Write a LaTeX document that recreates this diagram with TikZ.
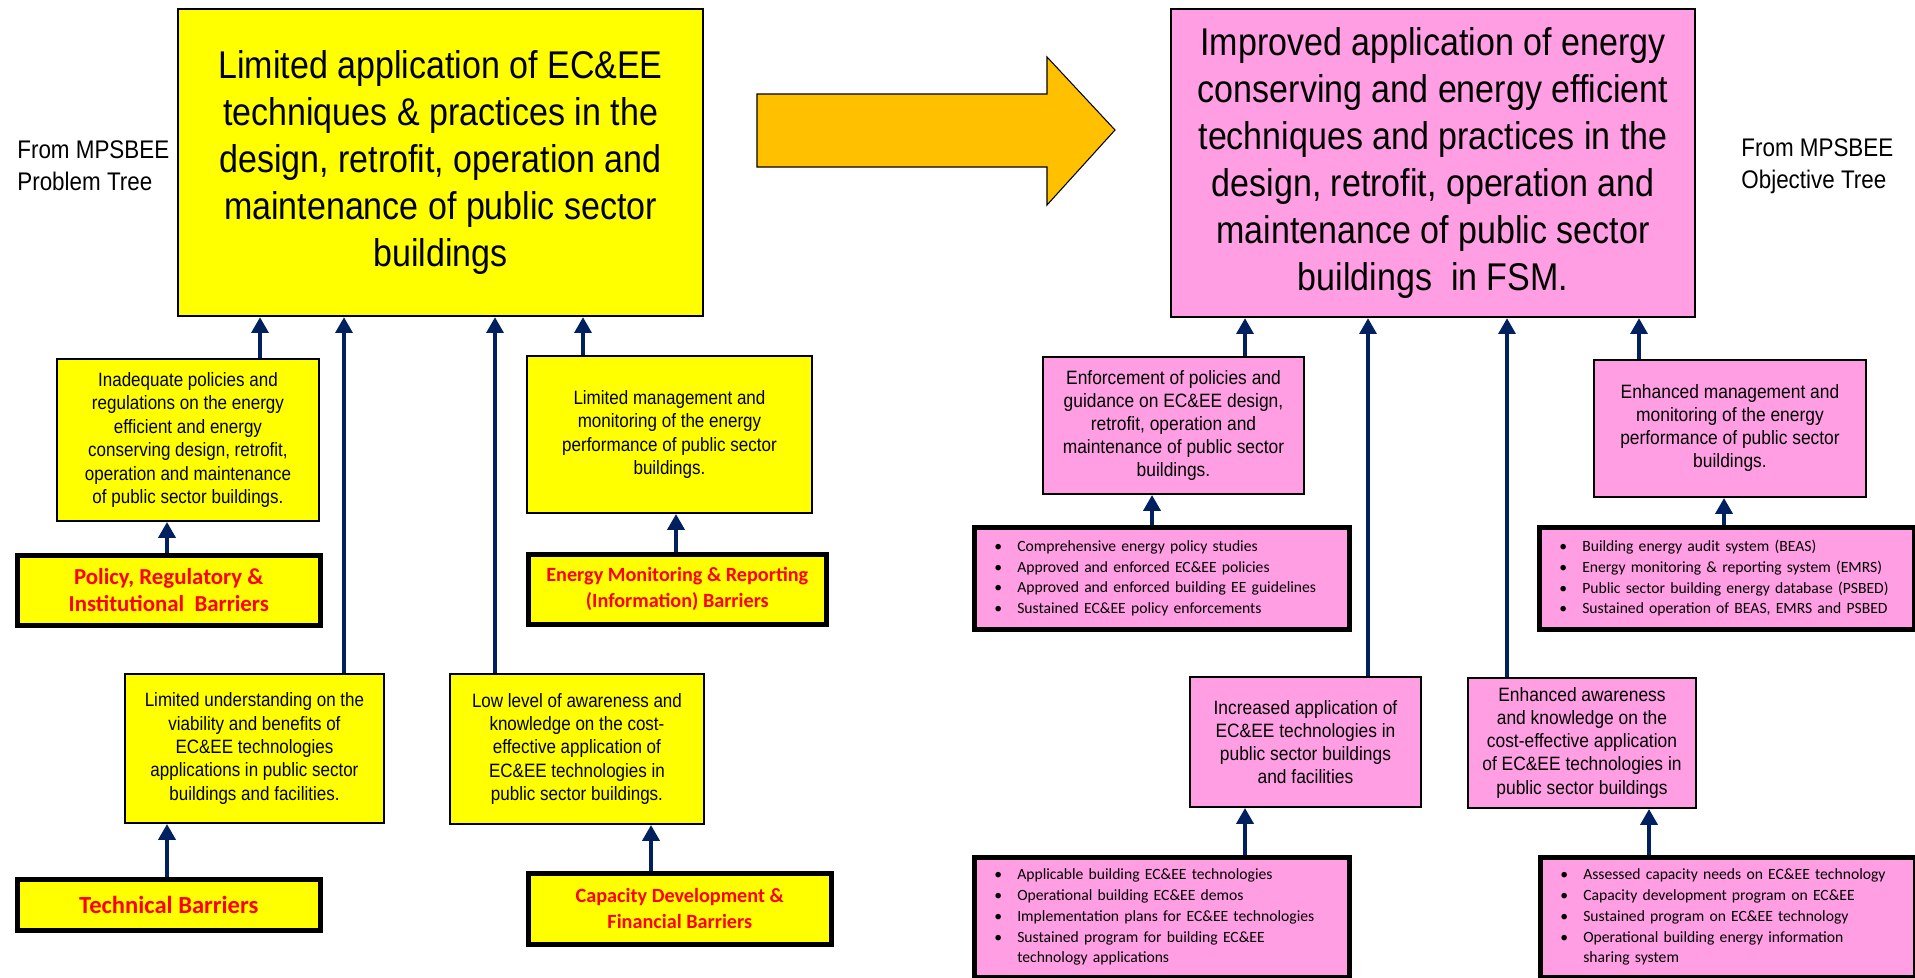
\documentclass[tikz,border=0pt]{standalone}
\usepackage{fontspec}
\setmainfont{Liberation Sans}
\newfontfamily\narrowfont[FakeStretch=0.88]{Liberation Sans}
\newfontfamily\thinfont[FakeStretch=0.9]{Liberation Sans}
\newfontfamily\califont{Carlito}
\usepackage{tikz}
\usetikzlibrary{arrows.meta, calc}

\definecolor{boxyellow}{RGB}{255,255,0}
\definecolor{boxpink}{RGB}{255,158,227}
\definecolor{arrownavy}{RGB}{0,32,96}
\definecolor{bigorange}{RGB}{255,192,0}
\definecolor{barred}{RGB}{255,0,0}

%bullet with fixed indent
\def\bul{\makebox[0.66cm][l]{\hspace{0.2cm}\textbullet}}
\def\ind{\hspace*{0.66cm}}

\begin{document}
\begin{tikzpicture}[x=0.02cm, y=-0.02cm,
     sized/.style 2 args={minimum width=#1*0.02cm, minimum height=#2*0.02cm},
     box/.style={draw, line width=1.1pt, inner sep=0pt, align=center, anchor=north west},
     mainbox/.style={box, line width=1.2pt, font=\narrowfont\fontsize{22}{26.7}\selectfont},
     cause/.style={box, fill=boxyellow, font=\narrowfont\fontsize{11}{13.3}\selectfont},
     result/.style={box, fill=boxpink, font=\thinfont\fontsize{11}{13.1}\selectfont},
     barrier/.style={box, fill=boxyellow, line width=2.6pt, text=barred, font=\califont\bfseries\fontsize{11.5}{14.8}\selectfont},
     outputs/.style={draw, fill=boxpink, line width=2.6pt, anchor=north west, align=left,
        inner xsep=0.2cm, inner ysep=0pt, text width=7.1cm, font=\califont\fontsize{8.9}{11.8}\selectfont},
     sidetext/.style={anchor=west, align=left, inner sep=0pt, font=\narrowfont\fontsize{14.5}{18}\selectfont},
     up/.style={draw=arrownavy, line width=2.8pt, -{Triangle[length=9pt, width=9.5pt]}}
     ]
\useasboundingbox (0,0) rectangle (1915,977);

%Problem tree side
\node[sidetext] (ptree) at (17,166) {From MPSBEE\\Problem Tree};
\node[mainbox, fill=boxyellow, sized={525}{307}] (prob) at (177,8)
   {Limited application of EC\&EE\\techniques \& practices in the\\design, retrofit, operation and\\maintenance of public sector\\buildings};

\node[cause, sized={262}{162}] (cpol) at (56,358)
   {Inadequate policies and\\regulations on the energy\\efficient and energy\\conserving design, retrofit,\\operation and maintenance\\of public sector buildings.};
\node[cause, sized={285}{157}] (cmon) at (526,355)
   {Limited management and\\monitoring of the energy\\performance of public sector\\buildings.};
\node[cause, sized={259}{149}] (ctech) at (124,673)
   {Limited understanding on the\\viability and benefits of\\EC\&EE technologies\\applications in public sector\\buildings and facilities.};
\node[cause, sized={254}{150}] (ccap) at (449,673)
   {Low level of awareness and\\knowledge on the cost-\\effective application of\\EC\&EE technologies in\\public sector buildings.};

\node[barrier, sized={303}{70}, font=\califont\bfseries\fontsize{13}{15.5}\selectfont] (bpol) at (15,553) {Policy, Regulatory \&\\Institutional\ \ Barriers};
\node[barrier, sized={298}{70}] (bmon) at (526,552) {Energy Monitoring \& Reporting\\(Information) Barriers};
\node[barrier, sized={303}{51}, font=\califont\bfseries\fontsize{14}{16}\selectfont] (btech) at (15,877) {Technical Barriers};
\node[barrier, sized={303}{71}] (bcap) at (526,871) {Capacity Development \&\\Financial Barriers};

%Big arrow between the trees
\filldraw[fill=bigorange, draw=black, line width=0.6pt] (757,94) -- (1047,94) -- (1047,57) -- (1115,130)
   -- (1047,205) -- (1047,167) -- (757,167) -- cycle;

%Objective tree side
\node[sidetext] (otree) at (1741,166) {From MPSBEE\\Objective Tree};
\node[mainbox, fill=boxpink, sized={524}{308}] (obj) at (1170,8)
   {Improved application of energy\\conserving and energy efficient\\techniques and practices in the\\design, retrofit, operation and\\maintenance of public sector\\buildings\ \ in FSM.};

\node[result, sized={261}{137}] (rpol) at (1042,356)
   {Enforcement of policies and\\guidance on EC\&EE design,\\retrofit, operation and\\maintenance of public sector\\buildings.};
\node[result, sized={272}{137}] (rmon) at (1593,359)
   {Enhanced management and\\monitoring of the energy\\performance of public sector\\buildings.};
\node[result, sized={231}{130}] (rtech) at (1189,676)
   {Increased application of\\EC\&EE technologies in\\public sector buildings\\and facilities};
\node[result, sized={228}{130}] (rcap) at (1467,677)
   {Enhanced awareness\\and knowledge on the\\cost-effective application\\of EC\&EE technologies in\\public sector buildings};

\node[outputs, minimum height=102*0.02cm] (opol) at (972,525)
   {\bul Comprehensive energy policy studies\\\bul Approved and enforced EC\&EE policies\\\bul Approved and enforced building EE guidelines\\\bul Sustained EC\&EE policy enforcements};
\node[outputs, minimum height=102*0.02cm] (omon) at (1537,525)
   {\bul Building energy audit system (BEAS)\\\bul Energy monitoring \& reporting system (EMRS)\\\bul Public sector building energy database (PSBED)\\\bul Sustained operation of BEAS, EMRS and PSBED};
\node[outputs, minimum height=120*0.02cm] (otech) at (972,855)
   {\bul Applicable building EC\&EE technologies\\\bul Operational building EC\&EE demos\\\bul Implementation plans for EC\&EE technologies\\\bul Sustained program for building EC\&EE\\\ind technology applications};
\node[outputs, minimum height=120*0.02cm] (ocap) at (1538,855)
   {\bul Assessed capacity needs on EC\&EE technology\\\bul Capacity development program on EC\&EE\\\bul Sustained program on EC\&EE technology\\\bul Operational building energy information\\\ind sharing system};

%Arrows: from / to / x position
\foreach \a/\b/\x in {bpol/cpol/167, bmon/cmon/676, btech/ctech/167, bcap/ccap/651,
                      cpol/prob/260, ctech/prob/344, ccap/prob/495, cmon/prob/583,
                      opol/rpol/1152, omon/rmon/1724, otech/rtech/1245, ocap/rcap/1649,
                      rpol/obj/1245, rtech/obj/1368, rcap/obj/1507, rmon/obj/1639}
   {
\draw[up] (\a.north -| \x,0) -- (\b.south -| \x,0);
   }
\end{tikzpicture}
\end{document}
